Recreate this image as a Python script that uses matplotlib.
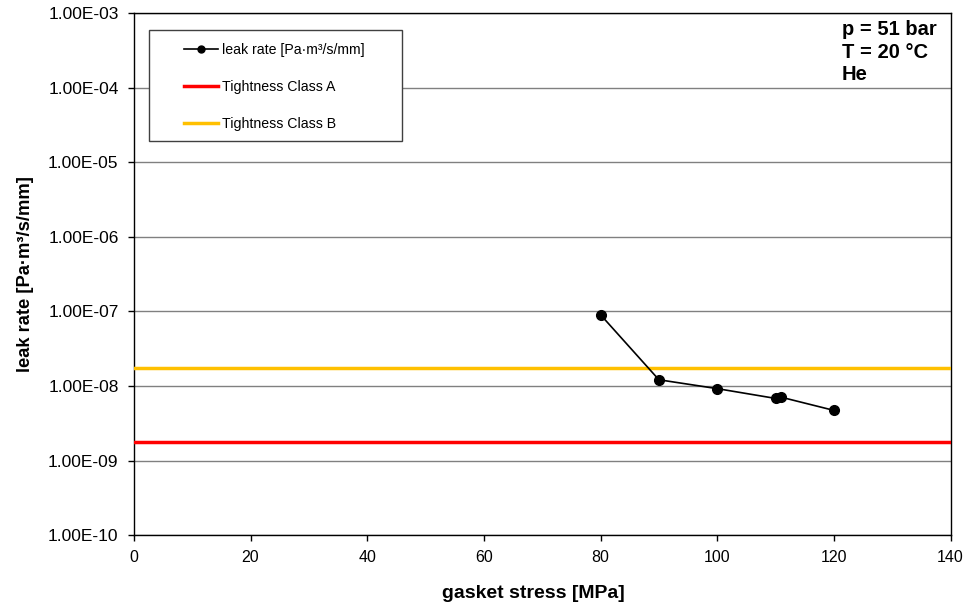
import matplotlib
matplotlib.use("Agg")
import matplotlib.pyplot as plt
from matplotlib.lines import Line2D
from matplotlib.patches import Rectangle
from matplotlib.ticker import FixedLocator, FuncFormatter, NullLocator

plt.rcParams['font.family'] = ['Liberation Sans', 'DejaVu Sans']

# Measured leak rate versus gasket stress
stress = [80, 90, 100, 110, 111, 120]
leak_rate = [9.0e-8, 1.21e-8, 9.2e-9, 6.8e-9, 7.05e-9, 4.7e-9]

# Tightness class limits
class_a = 1.76e-9
class_b = 1.76e-8

x_ticks = [0, 20, 40, 60, 80, 100, 120, 140]
y_ticks = [1e-10, 1e-9, 1e-8, 1e-7, 1e-6, 1e-5, 1e-4, 1e-3]

fig = plt.figure(figsize=(9.7, 6.06), dpi=100)
ax = fig.add_axes([0.138, 0.117, 0.842, 0.8615])

ax.set_yscale('log')
ax.set_xlim(0, 140)
ax.set_ylim(1e-10, 1e-3)

ax.yaxis.set_major_locator(FixedLocator(y_ticks))
ax.yaxis.set_minor_locator(NullLocator())
ax.yaxis.set_major_formatter(FuncFormatter(lambda v, p: "{:.2E}".format(v)))
ax.set_xticks(x_ticks)

ax.grid(axis='y', color='#808080', linewidth=1.0)
ax.set_axisbelow(True)

ax.axhline(class_a, color='#ff0000', linewidth=2.5, zorder=3)
ax.axhline(class_b, color='#ffc000', linewidth=2.5, zorder=3)
ax.plot(stress, leak_rate, color='black', marker='o', markersize=7, linewidth=1.2, zorder=4)

for s in ax.spines.values():
    s.set_color('black')
    s.set_linewidth(1.0)

ax.tick_params(axis='both', direction='out', length=4, width=1, colors='black',
               labelcolor='black')
ax.tick_params(axis='y', pad=7, labelsize=12.5)
ax.tick_params(axis='x', pad=7, labelsize=11.5)

ax.set_xlabel('gasket stress [MPa]', fontsize=14, fontweight='bold')
ax.xaxis.set_label_coords(0.4896, -0.096)
ax.set_ylabel('leak rate [Pa·m³/s/mm]', fontsize=13.2, fontweight='bold', labelpad=10)

# legend box with fixed extent
x0, y0 = fig.transFigure.inverted().transform((149, 606 - 141))
x1, y1 = fig.transFigure.inverted().transform((402, 606 - 30))
fig.patches.append(Rectangle((x0, y0), x1 - x0, y1 - y0, transform=fig.transFigure,
                             facecolor='white', edgecolor='#404040', linewidth=1.0,
                             zorder=5))

handles = [
    Line2D([], [], color='black', marker='o', markersize=5, linewidth=1.2),
    Line2D([], [], color='#ff0000', linewidth=2.5),
    Line2D([], [], color='#ffc000', linewidth=2.5),
]
labels = ['leak rate [Pa·m³/s/mm]', 'Tightness Class A', 'Tightness Class B']
lx, ly = fig.transFigure.inverted().transform((184, 606 - 43))
leg = fig.legend(handles, labels, loc='upper left', bbox_to_anchor=(lx, ly),
                 fontsize=10.2, frameon=False, handlelength=2.4, handletextpad=0.25,
                 labelspacing=1.62, borderpad=0, borderaxespad=0)
leg.set_zorder(6)

ax.text(0.867, 0.986, 'p = 51 bar\nT = 20 °C\nHe', transform=ax.transAxes,
        ha='left', va='top', fontsize=14.5, fontweight='bold', linespacing=1.22)

fig.savefig('out.png', dpi=100)
